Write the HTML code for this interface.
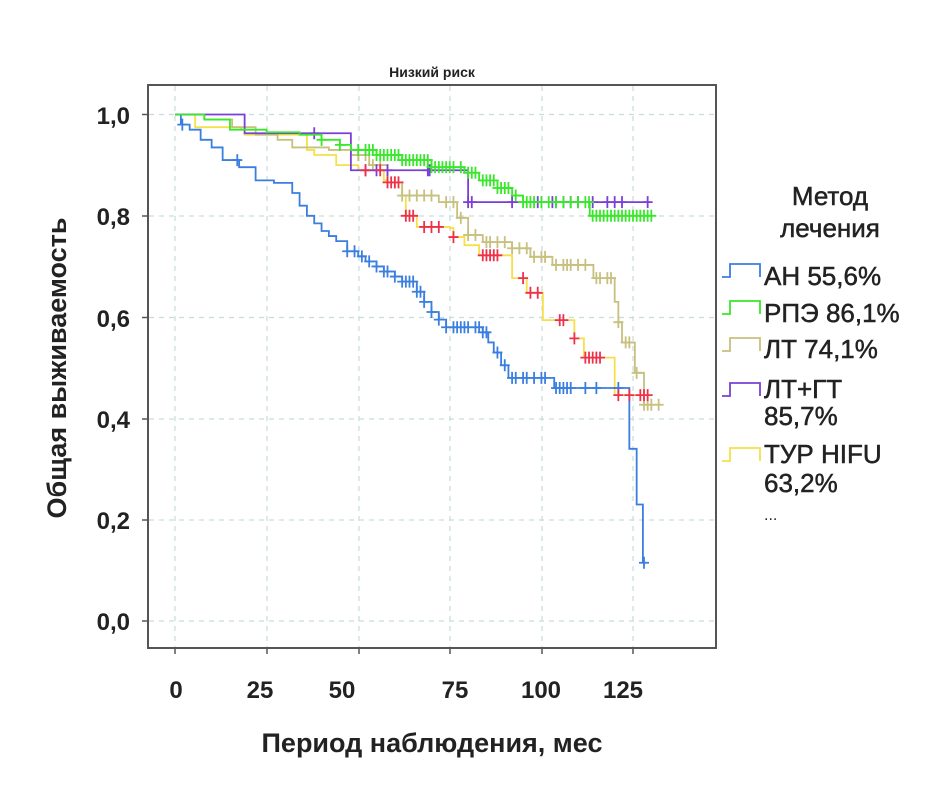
<!DOCTYPE html>
<html><head><meta charset="utf-8"><style>
body{margin:0;background:#fff;}
svg text{font-family:"Liberation Sans",sans-serif;}
</style></head><body>
<svg id="s" width="945" height="788" xmlns="http://www.w3.org/2000/svg">
<rect width="945" height="788" fill="#fff"/>
<rect x="148" y="85" width="568" height="563" fill="#fff" stroke="#555" stroke-width="2"/>
<g stroke="#c9dcdc" stroke-width="1.2" stroke-dasharray="5,5">
<line x1="175" y1="86" x2="175" y2="647"/><line x1="267" y1="86" x2="267" y2="647"/><line x1="359" y1="86" x2="359" y2="647"/><line x1="450" y1="86" x2="450" y2="647"/><line x1="542" y1="86" x2="542" y2="647"/><line x1="633" y1="86" x2="633" y2="647"/>
<line x1="149" y1="114.5" x2="715" y2="114.5"/><line x1="149" y1="216" x2="715" y2="216"/><line x1="149" y1="317.5" x2="715" y2="317.5"/><line x1="149" y1="419" x2="715" y2="419"/><line x1="149" y1="520" x2="715" y2="520"/><line x1="149" y1="621" x2="715" y2="621"/>
</g>
<g stroke="#555" stroke-width="1.5">
<line x1="175" y1="648" x2="175" y2="654"/><line x1="267" y1="648" x2="267" y2="654"/><line x1="359" y1="648" x2="359" y2="654"/><line x1="450" y1="648" x2="450" y2="654"/><line x1="542" y1="648" x2="542" y2="654"/><line x1="633" y1="648" x2="633" y2="654"/>
<line x1="142" y1="114.5" x2="148" y2="114.5"/><line x1="142" y1="216" x2="148" y2="216"/><line x1="142" y1="317.5" x2="148" y2="317.5"/><line x1="142" y1="419" x2="148" y2="419"/><line x1="142" y1="520" x2="148" y2="520"/><line x1="142" y1="621" x2="148" y2="621"/>
</g>
<g font-size="24" fill="#222" text-anchor="end" font-weight="bold">
<text x="130" y="124">1,0</text><text x="130" y="225">0,8</text><text x="130" y="327">0,6</text><text x="130" y="428">0,4</text><text x="130" y="529">0,2</text><text x="130" y="630">0,0</text>
</g>
<g font-size="24" fill="#222" text-anchor="middle" font-weight="bold">
<text x="176" y="698">0</text><text x="260" y="698">25</text><text x="342" y="698">50</text><text x="455" y="698">75</text><text x="541" y="698">100</text><text x="623" y="698">125</text>
</g>
<text x="432" y="77" font-size="14" font-weight="bold" text-anchor="middle" fill="#222">Низкий риск</text>
<text x="432" y="752" font-size="27" font-weight="bold" text-anchor="middle" fill="#222">Период наблюдения, мес</text>
<text transform="translate(66,368) rotate(-90)" font-size="27" font-weight="bold" text-anchor="middle" fill="#222">Общая выживаемость</text>
<g font-size="26" fill="#222" stroke="#222" stroke-width="0.5">
<text x="830" y="205" text-anchor="middle">Метод</text>
<text x="830" y="237" text-anchor="middle">лечения</text>
<text x="764" y="285">АН 55,6%</text>
<text x="764" y="322">РПЭ 86,1%</text>
<text x="764" y="358">ЛТ 74,1%</text>
<text x="764" y="398">ЛТ+ГТ</text>
<text x="764" y="425">85,7%</text>
<text x="764" y="463">ТУР HIFU</text>
<text x="764" y="492">63,2%</text>
<text x="764" y="520" font-size="16" stroke-width="0">...</text>
</g>
<g id="curves" fill="none" stroke-width="1.8"></g>
<g id="leg" fill="none" stroke-width="1.8"></g>
</svg>
<script>
var X=function(t){return 175+t*3.664},Y=function(s){return 621-s*506.5};
var series={
blue:{c:"#3a7ee0",p:[[0,1],[1.6,0.98],[4,0.97],[7,0.95],[10,0.935],[13,0.91],[17.5,0.896],[22,0.87],[27,0.865],[32,0.845],[34,0.82],[36,0.8],[38,0.785],[40,0.77],[42,0.76],[44,0.75],[47,0.73],[50,0.72],[52,0.71],[55,0.7],[57,0.69],[60,0.68],[62,0.67],[66,0.65],[68,0.63],[70,0.61],[72,0.595],[74,0.58],[84,0.57],[85.5,0.55],[87,0.53],[89,0.505],[91,0.48],[103,0.48],[103.5,0.46],[123.4,0.46],[124,0.34],[125.5,0.34],[126,0.23],[127,0.23],[127.7,0.115],[128.5,0.115]],
 m:[2,17,47,49,51,53,55,57,58,60,62,63,64,65,66,67,68,70,72,74,76,77,78,79,80,82,83,84,85,88,90,92,93,95,96,98,100,101,104,105,106,107,108,112,115,121,128]},
green:{c:"#39e82a",p:[[0,1],[8,0.99],[15,0.97],[25,0.965],[34,0.96],[40,0.95],[45,0.94],[48,0.93],[55,0.92],[62,0.91],[70,0.896],[79,0.885],[83,0.87],[88,0.855],[92,0.84],[95,0.827],[113,0.827],[113.2,0.8],[130,0.8]],
 m:[40,45,50,52,53,54,55,56,57,58,59,60,61,62,63,64,65,66,67,68,69,70,71,72,73,74,75,76,78,80,81,82,84,85,86,87,88,89,90,91,93,95,96,97,98,100,102,104,106,108,110,112,113,114,115,116,117,118,119,120,121,122,123,124,125,126,127,128,129,130]},
khaki:{c:"#c8c07e",p:[[0,1],[8,0.99],[15.6,0.975],[22,0.96],[28,0.95],[32,0.935],[42,0.93],[48,0.92],[53,0.9],[58,0.866],[62,0.84],[72,0.827],[77,0.796],[80,0.762],[84,0.748],[92,0.736],[97,0.719],[103,0.703],[114,0.703],[114.2,0.677],[119.5,0.677],[120,0.63],[121,0.59],[122,0.55],[125,0.55],[125.5,0.49],[127,0.49],[128,0.427],[132.6,0.427]],
 m:[50,52,54,56,60,62,64,66,68,70,74,76,78,80,82,85,86,88,90,92,94,96,98,100,101,104,106,107,108,110,112,115,116,118,119,121,123,124,126,128,129,130,132]},
purple:{c:"#7a3fd6",p:[[0,1],[19,1],[19,0.963],[48,0.963],[48,0.89],[80,0.89],[80,0.827],[129.6,0.827]],
 m:[38,52,55,58,69,69.5,80,81,92,99,103,104,106,108,110,114,118,120,122,129]},
yellow:{c:"#f5e04a",p:[[0,1],[5.5,0.975],[18,0.97],[19,0.96],[34.5,0.96],[36,0.93],[38,0.92],[44,0.9],[50,0.89],[57,0.87],[58,0.866],[62,0.84],[63,0.8],[66,0.778],[75,0.776],[76,0.758],[79,0.742],[83,0.722],[89,0.722],[92,0.677],[96,0.648],[100,0.648],[100.4,0.594],[108.6,0.594],[109,0.558],[111.6,0.52],[120,0.52],[120,0.446],[129.6,0.446]],
 m:[]}};
var red=[52,56,58,59,60,61,63,64,65,68,70,72,76,84,85,86,87,88,95,97,99,105,106,109,112,113,114,115,116,121,124,127,128,129];
function step(p){var d="M"+X(p[0][0])+","+Y(p[0][1]);for(var i=1;i<p.length;i++){d+=" H"+X(p[i][0])+" V"+Y(p[i][1]);}return d;}
function val(p,t){var s=p[0][1];for(var i=0;i<p.length;i++){if(p[i][0]<=t)s=p[i][1];}return s;}
var g=document.getElementById("curves"),ns="http://www.w3.org/2000/svg";
function add(tag,a,par){var e=document.createElementNS(ns,tag);for(var k in a)e.setAttribute(k,a[k]);(par||g).appendChild(e);return e;}
function marks(p,ts,c){var d="";ts.forEach(function(t){var x=X(t),y=Y(val(p,t));d+="M"+x+","+(y-6)+"V"+(y+6)+"M"+(x-5)+","+y+"H"+(x+5);});add("path",{d:d,stroke:c,"stroke-width":1.8});}
["yellow","khaki","blue","purple","green"].forEach(function(k){var s=series[k];add("path",{d:step(s.p),stroke:s.c});marks(s.p,s.m,s.c);});
marks(series.yellow.p,red,"#f0304a");
var lg=document.getElementById("leg");
[["#3a7ee0",264],["#39e82a",301],["#c8c07e",338],["#7a3fd6",383],["#f5e04a",448]].forEach(function(a){var y=a[1];add("path",{d:"M722,"+(y+13)+"H730V"+y+"H760V"+(y+13),stroke:a[0]},lg);});
</script>
</body></html>
